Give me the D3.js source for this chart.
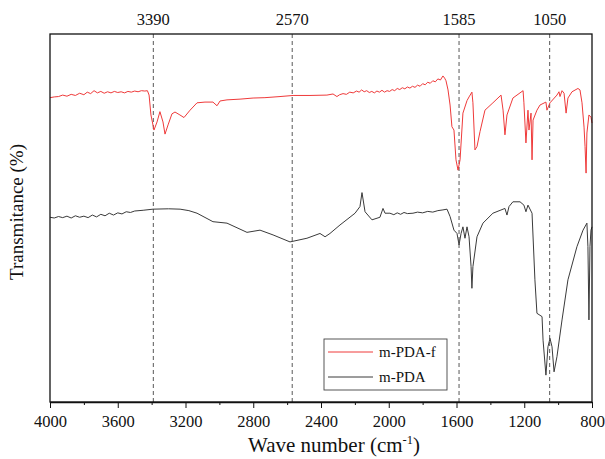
<!DOCTYPE html>
<html>
<head>
<meta charset="utf-8">
<script src="https://cdn.jsdelivr.net/npm/d3@7"></script>
<style>
body{margin:0;background:#fff;}
svg text{font-family:"Liberation Serif","Times New Roman",serif !important;fill:#111;}
</style>
</head>
<body>
<svg id="c" width="605" height="459" font-family="Liberation Serif"></svg>
<script>
// Wavenumber (cm-1) and transmittance (%, arbitrary offset scale)
const redWave = [4000,3975,3950,3925,3900,3875,3850,3825,3800,3780,3760,3740,3720,3700,3680,3660,3640,3620,3600,3580,3560,3540,3520,3500,3480,3460,3440,3425,
3415,3404,3386,3368,3351,3333,3321,3303,3280,3262,3233,3209,3173,3132,3085,3038,3014,2996,2955,2878,2801,2731,2642,2565,2465,2365,2329,
2306,2290,2270,2250,2230,2210,2190,2175,2160,2145,2130,2115,2100,2085,2070,2055,2040,2025,2010,1995,1980,1965,1950,1935,1920,1905,1890,1875,1860,1845,1830,1815,1800,1785,1770,1755,1740,1725,1710,1695,1680,1670,1662,
1650,1638,1627,1615,1603,1591,1579,1562,1538,1526,1509,1503,1491,1479,1461,1432,1385,1337,1325,1314,1302,1267,1207,1202,1190,1178,1172,1160,1154,1148,1125,1107,1072,1066,1048,1007,995,989,977,965,953,942,918,883,871,859,847,841,835,830,818,806,800];
const redVal = [82.7,82.9,83.0,83.4,83.1,83.6,83.3,83.9,83.5,84.2,83.8,84.6,84.0,84.4,83.9,84.3,84.0,84.4,84.1,84.3,84.0,84.4,84.2,84.5,84.3,84.6,84.5,84.6,
83.4,78.0,73.9,76.1,78.9,76.1,72.8,75.3,78.3,78.8,78.0,77.3,79.3,81.3,81.5,81.5,80.5,81.8,82.1,82.3,82.6,82.7,83.0,83.3,83.3,83.4,83.7,
83.0,83.5,83.8,83.6,84.2,84.0,84.5,84.2,84.8,84.3,84.6,84.1,84.4,84.0,84.5,84.2,84.7,84.2,84.6,84.4,84.9,84.6,85.2,84.9,85.4,85.1,85.6,85.3,85.8,85.5,86.1,85.8,86.5,86.2,86.9,86.6,87.3,87.0,87.8,87.5,88.6,88.0,87.3,
84.8,80.7,74.8,73.9,65.8,63.0,65.8,78.5,81.9,82.9,84.2,81.3,68.5,69.4,73.5,79.3,81.3,83.4,79.3,72.6,78.0,82.6,84.6,81.3,70.4,79.3,73.9,78.5,65.8,76.6,79.3,80.7,81.5,79.3,81.3,83.4,84.3,83.0,84.6,83.9,78.5,82.6,84.3,85.2,84.8,81.3,74.7,69.4,62.2,73.1,78.0,77.4,75.8];

const blackWave = [4000,3975,3950,3925,3900,3875,3850,3825,3800,3775,3750,3725,3700,3675,3650,3625,3600,3575,3550,3525,3500,3450,3392,3300,3232,3180,3132,3038,2955,2837,2760,2683,2583,2483,2406,2376,2347,2288,2199,2170,2158,2140,2099,2052,2034,2022,
1993,1970,1950,1930,1910,1890,1857,1830,1800,1770,1740,1710,1680,1656,1638,1615,1597,1585,1573,1562,1550,1538,1526,1514,1509,1503,1479,1444,1385,1314,1302,1290,1267,1225,1202,1190,1178,1154,1137,1125,1095,1089,1072,1060,1048,1036,1024,1007,977,942,889,853,830,824,818,812,806,800];
const blackVal = [50.2,50.0,50.4,50.1,50.5,50.0,50.6,50.2,50.5,50.1,50.8,50.3,51.0,50.6,51.3,50.8,51.4,51.1,51.7,51.5,51.9,52.1,52.4,52.5,52.4,52.0,51.3,49.0,48.6,46.1,46.7,45.4,43.5,44.5,45.8,44.9,45.8,48.1,51.3,53.1,56.9,51.7,49.5,50.2,52.6,51.3,
51.3,50.9,51.4,51.0,51.5,51.2,51.3,51.6,51.4,51.8,51.6,52.0,52.2,52.4,50.4,46.7,45.8,42.7,45.8,47.6,44.5,47.6,44.9,36.8,30.9,36.8,44.9,48.6,51.3,52.6,50.8,53.1,54.4,54.4,53.5,51.7,53.5,51.3,33.2,24.1,23.2,16.8,7.3,15.0,17.3,15.0,8.2,12.3,22.3,33.2,42.2,46.7,48.6,42.2,22.3,42.2,46.7,47.6];

const markWave = [3390,2570,1585,1050];
const xTicks = [4000,3600,3200,2800,2400,2000,1600,1200,800];
const xMinor = [3800,3400,3000,2600,2200,1800,1400,1000];
const seriesNames = ["m-PDA-f","m-PDA"];
const seriesColors = ["#ef3a3a","#3a3a3a"];

const L=50,R=592,T=34,B=402;
const FONT = "'Liberation Serif','Times New Roman',serif";
const svg = d3.select("#c");
const x = d3.scaleLinear().domain([4000,800]).range([L,R]);
const y = d3.scaleLinear().domain([0,100]).range([B,T]);

// dashed marker lines
svg.selectAll(".mk").data(markWave).enter().append("line")
  .attr("x1",d=>x(d)).attr("x2",d=>x(d)).attr("y1",T).attr("y2",B)
  .attr("stroke","#444").attr("stroke-width",0.9).attr("stroke-dasharray","4,3");
svg.selectAll(".mkl").data(markWave).enter().append("text")
  .attr("x",d=>x(d)).attr("y",25).attr("text-anchor","middle")
  .style("font-family",FONT).style("font-size","16.5px").text(d=>d);

const line = d3.line().x(d=>x(d[0])).y(d=>y(d[1]));
const redData = redWave.map((w,i)=>[w,redVal[i]]);
const blackData = blackWave.map((w,i)=>[w,blackVal[i]]);
svg.append("path").datum(blackData).attr("d",line).attr("fill","none")
  .attr("stroke",seriesColors[1]).attr("stroke-width",1).attr("stroke-linejoin","round");
svg.append("path").datum(redData).attr("d",line).attr("fill","none")
  .attr("stroke",seriesColors[0]).attr("stroke-width",1).attr("stroke-linejoin","round");

// frame
svg.append("rect").attr("x",L).attr("y",T).attr("width",R-L).attr("height",B-T)
  .attr("fill","none").attr("stroke","#111").attr("stroke-width",1.3);

// x axis
const ax = svg.append("g").attr("transform",`translate(0,${B})`)
  .call(d3.axisBottom(x).tickValues(xTicks).tickSize(6).tickSizeOuter(0).tickFormat(d3.format("d")));
ax.attr("font-family",null).attr("font-size",null);
ax.select(".domain").attr("stroke","#111").attr("stroke-width",1.3);
ax.selectAll(".tick line").attr("stroke","#111");
ax.selectAll(".tick text").style("font-size","16.5px").style("font-family",FONT).attr("fill","#111").attr("y",9).attr("dy","0.95em");
const axm = svg.append("g").attr("transform",`translate(0,${B})`)
  .call(d3.axisBottom(x).tickValues(xMinor).tickSize(3).tickFormat(""));
axm.select(".domain").remove();
axm.selectAll(".tick line").attr("stroke","#111");

// axis titles
const xt = svg.append("text").attr("x",(L+R)/2+13).attr("y",452).attr("text-anchor","middle")
  .style("font-family",FONT).style("font-size","21px");
xt.append("tspan").text("Wave number (cm");
xt.append("tspan").attr("dy",-8).style("font-size","12.5px").text("-1");
xt.append("tspan").attr("dy",8).text(")");
svg.append("text").attr("transform","translate(23,212) rotate(-90)").attr("text-anchor","middle")
  .style("font-family",FONT).style("font-size","19px").text("Transmitance (%)");

// legend
const lg = svg.append("g");
lg.append("rect").attr("x",324).attr("y",339).attr("width",123).attr("height",51)
  .attr("fill","#fff").attr("stroke","#444").attr("stroke-width",0.9);
seriesNames.forEach((n,i)=>{
  const yy = 352 + i*25;
  lg.append("line").attr("x1",328).attr("x2",373).attr("y1",yy).attr("y2",yy)
    .attr("stroke",seriesColors[i]).attr("stroke-width",1);
  lg.append("text").attr("x",379).attr("y",yy+5).style("font-family",FONT).style("font-size","15px").text(n);
});
</script>
</body>
</html>
